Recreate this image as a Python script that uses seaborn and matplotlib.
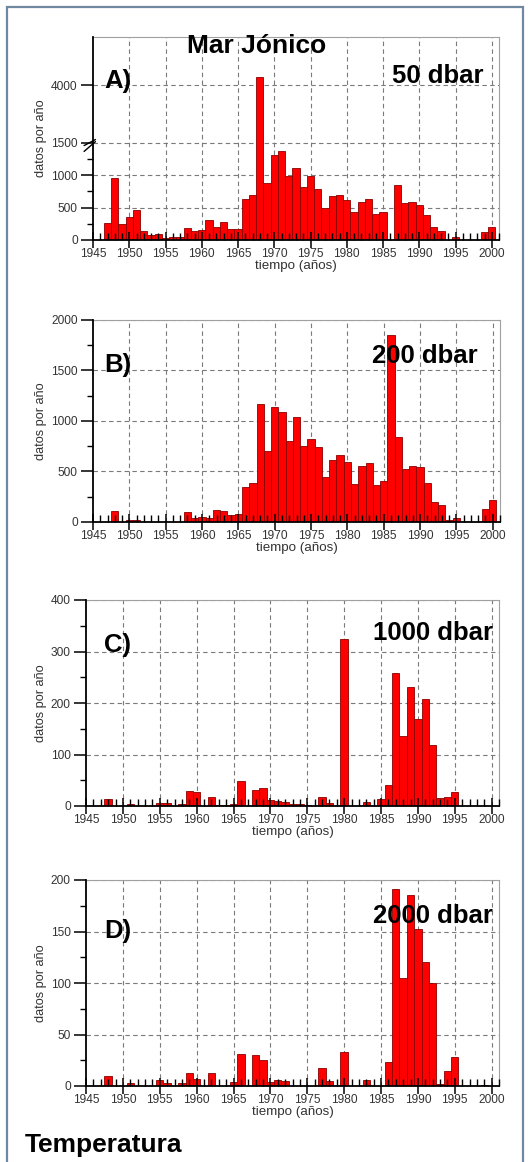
import numpy as np
import pandas as pd
import matplotlib
matplotlib.use("Agg")
import matplotlib.pyplot as plt
from matplotlib.patches import Rectangle
from matplotlib.ticker import MultipleLocator, FixedLocator
from matplotlib.lines import Line2D
import seaborn as sns

# ---------------- data (datos por año) ----------------
years_a = [1947, 1948, 1949, 1950, 1951, 1952, 1953, 1954, 1955, 1956, 1957, 1958, 1959,
           1960, 1961, 1962, 1963, 1964, 1965, 1966, 1967, 1968, 1969, 1970, 1971, 1972,
           1973, 1974, 1975, 1976, 1977, 1978, 1979, 1980, 1981, 1982, 1983, 1984, 1985,
           1987, 1988, 1989, 1990, 1991, 1992, 1993, 1994, 1995, 1999, 2000]
vals_a = [260, 960, 240, 350, 460, 145, 78, 88, 26, 47, 41, 181, 140,
          150, 305, 202, 275, 176, 166, 637, 689, 4360, 880, 1305, 1368, 980,
          1110, 813, 985, 787, 500, 684, 700, 622, 425, 580, 632, 404, 425,
          840, 570, 585, 544, 390, 207, 145, 5, 40, 130, 207]

years_b = [1948, 1950, 1951, 1958, 1959, 1960, 1961, 1962, 1963, 1964, 1965, 1966, 1967,
           1968, 1969, 1970, 1971, 1972, 1973, 1974, 1975, 1976, 1977, 1978, 1979, 1980,
           1981, 1982, 1983, 1984, 1985, 1986, 1987, 1988, 1989, 1990, 1991, 1992, 1993,
           1994, 1995, 1999, 2000]
vals_b = [105, 23, 20, 100, 40, 52, 36, 115, 105, 66, 75, 345, 388,
          1170, 704, 1135, 1085, 803, 1043, 757, 819, 740, 447, 618, 661, 599,
          378, 556, 582, 368, 405, 1855, 839, 526, 559, 543, 382, 201, 165,
          23, 40, 128, 214]

years_c = [1948, 1951, 1955, 1956, 1958, 1959, 1960, 1962, 1963, 1964, 1965, 1966, 1968,
           1969, 1970, 1971, 1972, 1973, 1974, 1975, 1977, 1978, 1980, 1983, 1985, 1986,
           1987, 1988, 1989, 1990, 1991, 1992, 1993, 1994, 1995]
vals_c = [13, 3, 6, 6, 3, 29, 27, 17, 1, 1, 4, 48, 32,
          35, 12, 9, 8, 4, 4, 1, 17, 6, 325, 8, 13, 41,
          258, 136, 231, 169, 208, 118, 16, 18, 28]

years_d = [1948, 1951, 1955, 1956, 1958, 1959, 1960, 1962, 1965, 1966, 1968, 1969, 1970,
           1971, 1972, 1977, 1978, 1980, 1983, 1986, 1987, 1988, 1989, 1990, 1991, 1992,
           1993, 1994, 1995, 1999]
vals_d = [10, 3, 6, 3, 3, 13, 7, 13, 4, 31, 30, 25, 4,
          6, 5, 17, 5, 33, 6, 23, 191, 105, 185, 152, 120, 100,
          2, 15, 28, 1]

panel_letters = ["A)", "B)", "C)", "D)"]
panel_depths = ["50 dbar", "200 dbar", "1000 dbar", "2000 dbar"]
title_text = "Mar Jónico"
footer_text = "Temperatura"
xlabel_text = "tiempo (años)"
ylabel_text = "datos por año"
xticks_years = [1945, 1950, 1955, 1960, 1965, 1970, 1975, 1980, 1985, 1990, 1995, 2000]
yticks_a = [0, 500, 1000, 1500, 4000]
yticks_b = [0, 500, 1000, 1500, 2000]
yticks_c = [0, 100, 200, 300, 400]
yticks_d = [0, 50, 100, 150, 200]

# ---------------- style ----------------
sns.set_theme(style="white")
plt.rcParams['font.family'] = ['Liberation Sans', 'DejaVu Sans']

W, H = 528, 1162
fig = plt.figure(figsize=(W / 100, H / 100), dpi=100)
fig.patch.set_facecolor("white")


def fbox(left, right, top, bottom):
    return [left / W, 1 - bottom / H, (right - left) / W, (bottom - top) / H]


# panel A broken-axis scale
BRK = 1500.0
K = 0.354


def fwd(y):
    y = np.asarray(y, dtype=float)
    return np.where(y <= BRK, y, BRK + (y - BRK) * K)


def inv(y):
    y = np.asarray(y, dtype=float)
    return np.where(y <= BRK, y, BRK + (y - BRK) / K)


panels = [
    dict(years=years_a, vals=vals_a, box=fbox(93, 499, 37, 240), yticks=yticks_a, ylim=(0, 6100),
         minor=[250, 750, 1250], letter_y=88, depth_y=83, depth_x=483),
    dict(years=years_b, vals=vals_b, box=fbox(93, 500, 320, 522), yticks=yticks_b, ylim=(0, 2000),
         minor=list(range(250, 2000, 500)), letter_y=372, depth_y=363, depth_x=478),
    dict(years=years_c, vals=vals_c, box=fbox(86, 499, 600, 806), yticks=yticks_c, ylim=(0, 400),
         minor=list(range(50, 400, 100)), letter_y=652, depth_y=640, depth_x=493),
    dict(years=years_d, vals=vals_d, box=fbox(86, 499, 880, 1086), yticks=yticks_d, ylim=(0, 200),
         minor=list(range(25, 200, 50)), letter_y=938, depth_y=923, depth_x=493),
]

GRID_KW = dict(color="#7a7a7a", linestyle=(0, (4, 3)), linewidth=0.8, zorder=0.5)

for i, p in enumerate(panels):
    ax = fig.add_axes(p["box"])
    if i == 0:
        ax.set_yscale("function", functions=(fwd, inv))
    df = pd.DataFrame({"year": p["years"], "n": p["vals"]})
    sns.barplot(data=df, x="year", y="n", native_scale=True, width=1.0, color="#ff0000",
                saturation=1, edgecolor="#8b0000", linewidth=0.6, errorbar=None, ax=ax, zorder=1)
    ax.set_xlim(1945, 2001)
    ax.set_ylim(*p["ylim"])
    ax.set_xticks(xticks_years)
    ax.set_xticklabels([str(y) for y in xticks_years])
    ax.xaxis.set_minor_locator(MultipleLocator(1))
    ax.yaxis.set_major_locator(FixedLocator(p["yticks"]))
    ax.set_yticklabels([str(t) for t in p["yticks"]])
    ax.yaxis.set_minor_locator(FixedLocator(p["minor"]))

    ax.tick_params(axis="x", which="major", direction="inout", length=11, width=1.1,
                   labelsize=8.6, pad=0, colors="black", labelcolor="#333333", bottom=True)
    ax.tick_params(axis="x", which="minor", direction="in", length=5, width=1.0,
                   colors="black", bottom=True)
    ax.tick_params(axis="y", which="major", direction="out", length=9, width=1.1,
                   labelsize=8.6, pad=2, colors="black", labelcolor="#333333", left=True)
    ax.tick_params(axis="y", which="minor", direction="out", length=4, width=1.0,
                   colors="black", left=True)

    # dashed grid behind the bars, ticks drawn above them
    ax.grid(False)
    ax.set_axisbelow(False)
    for xv in xticks_years[1:]:
        ax.axvline(xv, **GRID_KW)
    for yv in p["yticks"][1:]:
        ax.axhline(yv, **GRID_KW)

    for s in ["left", "bottom"]:
        ax.spines[s].set_color("black")
        ax.spines[s].set_linewidth(1.3)
        ax.spines[s].set_zorder(5)
    for s in ["top", "right"]:
        ax.spines[s].set_color("#a0a0a0")
        ax.spines[s].set_linewidth(0.8)

    ax.set_xlabel(xlabel_text, fontsize=9.6, color="#333333", labelpad=0)
    ax.set_ylabel(ylabel_text, fontsize=9.2, color="#333333", labelpad=3)

    # panel letter and depth (figure pixel coords)
    fig.text(104 / W, 1 - p["letter_y"] / H, panel_letters[i], fontsize=18.5,
             fontweight="bold", ha="left", va="baseline", color="black")
    fig.text(p["depth_x"] / W, 1 - p["depth_y"] / H, panel_depths[i], fontsize=18.5,
             fontweight="bold", ha="right", va="baseline", color="black", zorder=10)

    if i == 0:
        # break marks on the left spine at 1500
        tr = ax.get_yaxis_transform()
        for dy in (-45, 45):
            ax.add_line(Line2D([-0.022, 0.006], [BRK - 90 + dy, BRK + 90 + dy], transform=tr,
                               color="black", linewidth=1.0, clip_on=False, zorder=6))

fig.text(257 / W, 1 - 53 / H, title_text, fontsize=19, fontweight="bold",
         ha="center", va="baseline", color="black")
fig.text(25 / W, 1 - 1152 / H, footer_text, fontsize=19, fontweight="bold",
         ha="left", va="baseline", color="black")

# outer frame
fig.add_artist(Rectangle((7 / W, -0.02), (523 - 7) / W, 1.02 - 7 / H, transform=fig.transFigure,
                         fill=False, edgecolor="#7088a0", linewidth=1.6))

fig.savefig("out.png", dpi=100, facecolor="white")
